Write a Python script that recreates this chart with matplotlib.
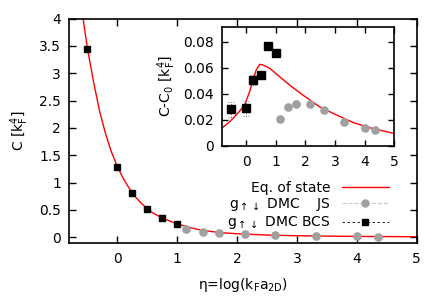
import matplotlib
matplotlib.use("Agg")
import matplotlib.pyplot as plt
from matplotlib.ticker import FormatStrFormatter
from matplotlib.lines import Line2D

plt.rcParams['font.family'] = ['DejaVu Sans']
plt.rcParams['mathtext.fontset'] = 'dejavusans'

# ---------------- data ----------------
# main panel: equation of state curve
eos_eta = [-0.7, -0.6, -0.5, -0.4, -0.3, -0.2, -0.1, 0.0, 0.1, 0.2, 0.3, 0.4, 0.5,
           0.6, 0.7, 0.8, 0.9, 1.0, 1.2, 1.4, 1.6, 1.8, 2.0, 2.5, 3.0, 3.5, 4.0, 4.5, 5.0]
eos_C = [4.9, 4.2, 3.45, 2.85, 2.32, 1.9, 1.56, 1.29, 1.07, 0.89, 0.74, 0.62, 0.52,
         0.44, 0.38, 0.33, 0.285, 0.245, 0.18, 0.13, 0.1, 0.078, 0.064, 0.04, 0.027,
         0.02, 0.015, 0.012, 0.009]

bcs_eta = [-0.5, 0.0, 0.25, 0.5, 0.75, 1.0]
bcs_C = [3.45, 1.29, 0.815, 0.52, 0.36, 0.243]

js_eta = [1.15, 1.43, 1.7, 2.14, 2.63, 3.32, 4.01, 4.36]
js_C = [0.146, 0.103, 0.075, 0.055, 0.037, 0.02, 0.015, 0.013]

# inset: C - C0
ins_eos_eta = [-0.8, -0.55, -0.28, -0.05, 0.12, 0.23, 0.34, 0.46, 0.57, 0.8, 1.13,
               1.47, 1.92, 2.48, 3.05, 3.6, 4.17, 5.0]
ins_eos_dC = [0.0137, 0.0183, 0.0248, 0.031, 0.0414, 0.050, 0.058, 0.0625, 0.062,
              0.0594, 0.053, 0.0465, 0.0388, 0.0298, 0.0235, 0.0178, 0.0137, 0.0092]

ins_bcs_dC = [0.0278, 0.0286, 0.0504, 0.054, 0.0765, 0.0709]
ins_bcs_err = [0.006, 0.006, 0.004, 0.003, 0.002, 0.002]
ins_js_dC = [0.0204, 0.0298, 0.0322, 0.0322, 0.0273, 0.0178, 0.0135, 0.0122]

main_xticks = [0, 1, 2, 3, 4, 5]
main_yticks = [0, 0.5, 1, 1.5, 2, 2.5, 3, 3.5, 4]
ins_yticks = [0, 0.02, 0.04, 0.06, 0.08]

labels = ["Eq. of state",
          r"g$_{\uparrow\downarrow}$ DMC    JS",
          r"g$_{\uparrow\downarrow}$ DMC BCS"]

RED = '#ff0000'
GRAY = '#a0a0a0'
FS = 10
DPI = 100

fig = plt.figure(figsize=(4.36, 3.01), dpi=DPI)
ax = fig.add_axes([0.1594, 0.1937, 0.7963, 0.7448])

ax.plot(eos_eta, eos_C, color=RED, lw=1.0, zorder=2)
ax.plot(js_eta, js_C, ls='none', marker='o', ms=5.2, color=GRAY, mec=GRAY, zorder=3)
ax.plot(bcs_eta, bcs_C, ls='none', marker='s', ms=5.0, color='black', zorder=4)

ax.set_xlim(-0.8, 5)
ax.set_ylim(-0.1, 4)
ax.set_xticks(main_xticks)
ax.set_yticks(main_yticks)
ax.yaxis.set_major_formatter(FormatStrFormatter('%g'))
ax.tick_params(direction='in', length=5, width=1.0, top=True, right=True,
               labelsize=FS, pad=6)
ax.tick_params(axis='x', pad=7)
for s in ax.spines.values():
    s.set_linewidth(1.2)
ax.set_xlabel(r"η=log(k$_\mathrm{F}$a$_\mathrm{2D}$)", fontsize=FS, labelpad=7)
ax.set_ylabel(r"C [k$_\mathrm{F}^4$]", fontsize=FS, labelpad=6)

h_eos = Line2D([], [], color=RED, lw=1.0)
h_js = Line2D([], [], color='#c8c8c8', lw=0.8, ls='--', marker='o', ms=5,
              mfc=GRAY, mec=GRAY)
h_bcs = Line2D([], [], color='black', lw=0.6, ls=(0, (3, 3)), marker='s', ms=5,
               mfc='black', mec='black')
leg = ax.legend([h_eos, h_js, h_bcs], labels, loc='lower right',
                bbox_to_anchor=(0.92, 0.05), frameon=False, fontsize=FS,
                markerfirst=False, handlelength=3.4, handletextpad=0.8,
                labelspacing=0.1, borderpad=0, borderaxespad=0, numpoints=1)

# right-align legend texts (measure, then shift each text by the needed amount)
fig.canvas.draw()
renderer = fig.canvas.get_renderer()
texts = leg.get_texts()
x1s = [t.get_window_extent(renderer).x1 for t in texts]
need = [max(x1s) - x for x in x1s]
# calibrate units of text position offset
probe = texts[0]
old = probe.get_window_extent(renderer).x1
probe.set_position((10, 0))
fig.canvas.draw()
moved = probe.get_window_extent(renderer).x1 - old
probe.set_position((0, 0))
ratio = 10.0 / moved if abs(moved) > 1e-6 else 72.0 / DPI
for t, n in zip(texts, need):
    t.set_position((n * ratio, 0))

# inset
axi = fig.add_axes([0.5099, 0.5166, 0.3945, 0.3927])
axi.plot(ins_eos_eta, ins_eos_dC, color=RED, lw=1.0, zorder=2)
axi.plot(js_eta, ins_js_dC, ls='none', marker='o', ms=5.2, color=GRAY, mec=GRAY, zorder=3)
lo = [v - e for v, e in zip(ins_bcs_dC, ins_bcs_err)]
hi = [v + e for v, e in zip(ins_bcs_dC, ins_bcs_err)]
axi.vlines(bcs_eta, lo, hi, colors='#555555', lw=0.6, linestyles=(0, (1, 2)), zorder=3)
axi.hlines(lo, [x - 0.1 for x in bcs_eta], [x + 0.1 for x in bcs_eta],
           colors='#555555', lw=0.6, linestyles=(0, (1, 2)), zorder=3)
axi.hlines(hi, [x - 0.1 for x in bcs_eta], [x + 0.1 for x in bcs_eta],
           colors='#555555', lw=0.6, linestyles=(0, (1, 2)), zorder=3)
axi.plot(bcs_eta, ins_bcs_dC, ls='none', marker='s', ms=5.5, color='black', zorder=4)
axi.set_xlim(-0.8, 5)
axi.set_ylim(0, 0.091)
axi.set_xticks(main_xticks)
axi.set_yticks(ins_yticks)
axi.yaxis.set_major_formatter(FormatStrFormatter('%g'))
axi.tick_params(direction='in', length=4.5, width=1.0, top=True, right=True,
                labelsize=FS, pad=6)
axi.tick_params(axis='x', pad=7)
for s in axi.spines.values():
    s.set_linewidth(1.2)
axi.set_ylabel(r"C-C$_0$ [k$_\mathrm{F}^4$]", fontsize=FS, labelpad=4)

fig.savefig("out.png", dpi=DPI)
